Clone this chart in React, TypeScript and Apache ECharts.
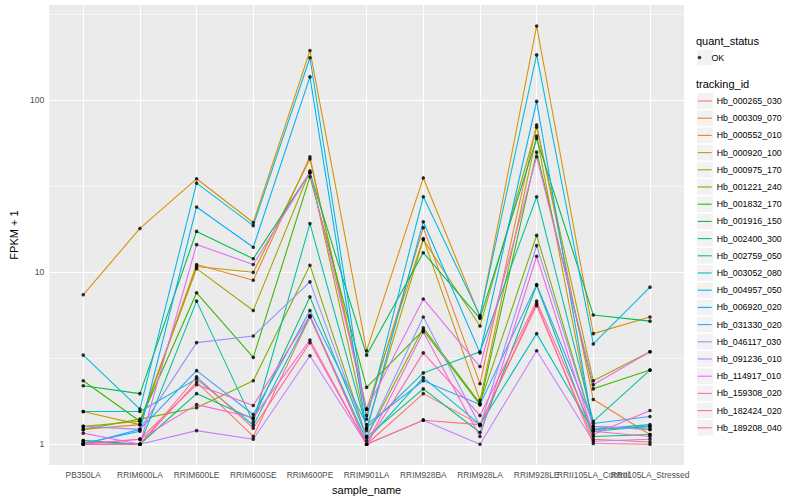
import React, { useEffect, useRef } from "react";
import * as echarts from "echarts";

const sampleNames = [
  "PB350LA", "RRIM600LA", "RRIM600LE", "RRIM600SE", "RRIM600PE", "RRIM901LA",
  "RRIM928BA", "RRIM928LA", "RRIM928LE", "RRII105LA_Control", "RRII105LA_Stressed",
];

const yMajorTicks = [1, 10, 100];
const yMinorTicks = [3.1623, 31.623, 316.23];

const trackingIds = [
  "Hb_000265_030", "Hb_000309_070", "Hb_000552_010", "Hb_000920_100", "Hb_000975_170",
  "Hb_001221_240", "Hb_001832_170", "Hb_001916_150", "Hb_002400_300", "Hb_002759_050",
  "Hb_003052_080", "Hb_004957_050", "Hb_006920_020", "Hb_031330_020", "Hb_046117_030",
  "Hb_091236_010", "Hb_114917_010", "Hb_159308_020", "Hb_182424_020", "Hb_189208_040",
];

const trackingColors = [
  "#F8766D", "#EA8331", "#D89000", "#C09B00", "#A3A500", "#7CAE00", "#39B600", "#00BB4E",
  "#00BF7D", "#00C1A3", "#00BFC4", "#00BAE0", "#00B0F6", "#35A2FF", "#9590FF", "#C77CFF",
  "#E76BF3", "#FA62DB", "#FF62BC", "#FF6C91",
];

// FPKM + 1 per sample (order of sampleNames)
const hb_000265_030 = [1.05, 1.0, 2.3, 1.11, 5.5, 1.0, 1.97, 1.3, 6.4, 1.07, 1.03];
const hb_000309_070 = [1.22, 1.3, 11.1, 9.0, 47, 1.47, 18.2, 2.25, 72, 1.82, 1.14];
const hb_000552_010 = [7.4, 18, 35, 19.5, 195, 3.5, 35.4, 5.5, 271, 4.4, 5.5];
const hb_000920_100 = [1.55, 1.3, 10.8, 10.0, 45.6, 1.6, 15.7, 1.8, 62, 1.22, 1.27];
const hb_000975_170 = [1.27, 1.36, 10.5, 6.0, 39, 1.24, 15.5, 4.87, 69.8, 2.34, 3.45];
const hb_001221_240 = [1.22, 1.4, 1.63, 2.34, 11, 1.1, 4.75, 1.73, 16.4, 1.27, 1.22];
const hb_001832_170 = [2.34, 1.36, 7.6, 3.2, 36, 2.14, 4.6, 1.7, 50, 2.1, 2.7];
const hb_001916_150 = [2.19, 1.97, 17.3, 12.0, 38, 3.3, 13, 5.4, 60, 5.65, 5.2];
const hb_002400_300 = [1.05, 1.0, 1.97, 1.4, 7.2, 1.1, 2.1, 1.17, 8.4, 1.11, 1.14];
const hb_002759_050 = [1.03, 1.0, 6.8, 1.34, 19.2, 1.24, 2.6, 3.45, 27.5, 1.36, 2.7];
const hb_003052_080 = [1.55, 1.55, 2.4, 1.29, 5.55, 1.05, 2.44, 1.3, 4.4, 1.19, 1.27];
const hb_004957_050 = [3.3, 1.6, 33, 18.7, 177, 1.4, 27.5, 5.6, 184, 3.83, 8.2];
const hb_006920_020 = [1.01, 1.19, 24, 14, 137, 1.2, 19.7, 3.4, 98.7, 1.22, 1.3];
const hb_031330_020 = [1.0, 1.22, 2.68, 1.49, 6.0, 1.3, 2.34, 1.7, 8.5, 1.32, 1.45];
const hb_046117_030 = [1.27, 1.22, 3.9, 4.26, 8.8, 1.11, 5.5, 1.28, 14.3, 1.27, 1.22];
const hb_091236_010 = [1.0, 1.0, 1.2, 1.07, 3.27, 1.0, 1.38, 1.0, 3.5, 1.04, 1.07];
const hb_114917_010 = [1.16, 1.0, 14.5, 11.1, 38, 1.6, 7.0, 2.83, 47, 2.22, 3.45];
const hb_159308_020 = [1.0, 1.07, 1.7, 1.43, 4.04, 1.0, 4.5, 1.11, 12.4, 1.14, 1.57];
const hb_182424_020 = [1.01, 1.07, 2.22, 1.68, 5.6, 1.0, 3.4, 1.47, 6.8, 1.19, 1.11];
const hb_189208_040 = [1.0, 1.0, 2.47, 1.24, 3.9, 1.0, 1.38, 1.3, 6.6, 1.01, 1.0];

const fpkmPlusOne = [
  hb_000265_030, hb_000309_070, hb_000552_010, hb_000920_100, hb_000975_170,
  hb_001221_240, hb_001832_170, hb_001916_150, hb_002400_300, hb_002759_050,
  hb_003052_080, hb_004957_050, hb_006920_020, hb_031330_020, hb_046117_030,
  hb_091236_010, hb_114917_010, hb_159308_020, hb_182424_020, hb_189208_040,
];

const FONT = "'Liberation Sans', Arial, Helvetica, sans-serif";

export default function App() {
  const ref = useRef<HTMLDivElement>(null);

  useEffect(() => {
    if (!ref.current) return;
    const chart = echarts.init(ref.current, null, { renderer: "svg" });
    const lg = (v: number) => Math.log10(v);
    const catIdx = sampleNames.map((_, i) => i);
    // split label indices across two axes so that overlapping labels (as in the reference) are all kept
    const labelsA = catIdx.filter((i) => i % 2 === 0);
    const labelsB = catIdx.filter((i) => i % 2 === 1);

    const lineSeries = fpkmPlusOne.map((vals, k) => ({
      type: "line",
      name: trackingIds[k],
      data: vals.map((v, j) => [j, lg(v)]),
      symbol: "none",
      showSymbol: false,
      z: 2,
      silent: true,
      lineStyle: { color: trackingColors[k], width: 1.07 },
      itemStyle: { color: trackingColors[k] },
    }));

    const pointData: number[][] = [];
    fpkmPlusOne.forEach((vals) => vals.forEach((v, j) => pointData.push([j, lg(v)])));

    const gridSeries = {
      type: "line",
      name: "__grid",
      data: [],
      silent: true,
      z: 1,
      markLine: {
        z: 1,
        silent: true,
        symbol: ["none", "none"],
        label: { show: false },
        animation: false,
        data: [
          ...yMinorTicks.map((v) => ({ yAxis: lg(v), lineStyle: { color: "#FFFFFF", width: 0.55, type: "solid" } })),
          ...yMajorTicks.map((v) => ({ yAxis: lg(v), lineStyle: { color: "#FFFFFF", width: 1.1, type: "solid" } })),
          ...catIdx.map((i) => ({ xAxis: i, lineStyle: { color: "#FFFFFF", width: 1.1, type: "solid" } })),
        ],
      },
    };

    const keyCenters = trackingIds.map((_, i) => 101 + i * 17.2);
    const keyRects = [57.5, ...keyCenters].map((cy) => ({
      type: "rect",
      shape: { x: 697, y: cy - 7.8, width: 16, height: 15.6 },
      style: { fill: "#F2F2F2" },
      z: 0,
      silent: true,
    }));

    const xLabelStyle = {
      show: true,
      margin: 6,
      fontSize: 8.4,
      color: "#4D4D4D",
      fontFamily: FONT,
      hideOverlap: false,
      showMinLabel: true,
      showMaxLabel: true,
      formatter: (v: number) => sampleNames[Math.round(v)] ?? "",
    };

    chart.setOption({
      animation: false,
      backgroundColor: "#FFFFFF",
      textStyle: { fontFamily: FONT },
      grid: {
        left: 40,
        right: 116,
        top: 5,
        bottom: 32,
        show: true,
        backgroundColor: "#EBEBEB",
        borderWidth: 0,
        containLabel: false,
      },
      xAxis: [
        {
          type: "value",
          min: -0.6,
          max: 10.6,
          position: "bottom",
          name: "sample_name",
          nameLocation: "middle",
          nameGap: 13,
          nameTextStyle: { fontSize: 11, color: "#000000", fontFamily: FONT, verticalAlign: "top" },
          axisLine: { show: false },
          splitLine: { show: false },
          axisTick: { show: true, length: 2.75, lineStyle: { color: "#333333", width: 1.07 }, customValues: catIdx },
          axisLabel: { ...xLabelStyle, customValues: labelsA },
        },
        {
          type: "value",
          min: -0.6,
          max: 10.6,
          position: "bottom",
          offset: 0,
          axisLine: { show: false },
          splitLine: { show: false },
          axisTick: { show: false },
          axisLabel: { ...xLabelStyle, customValues: labelsB },
        },
      ],
      yAxis: {
        type: "value",
        min: -0.1214,
        max: 2.555,
        name: "FPKM + 1",
        nameLocation: "middle",
        nameRotate: 90,
        nameGap: 26,
        nameTextStyle: { fontSize: 11, color: "#000000", fontFamily: FONT },
        axisLine: { show: false },
        splitLine: { show: false },
        axisTick: {
          show: true,
          length: 2.75,
          lineStyle: { color: "#333333", width: 1.07 },
          customValues: yMajorTicks.map(lg),
        },
        axisLabel: {
          show: true,
          customValues: yMajorTicks.map(lg),
          margin: 5,
          fontSize: 8.6,
          color: "#4D4D4D",
          fontFamily: FONT,
          showMinLabel: true,
          showMaxLabel: true,
          formatter: (v: number) => String(Math.round(Math.pow(10, v))),
        },
      },
      legend: [
        {
          data: ["OK"],
          orient: "vertical",
          left: 697.7,
          top: 48.9,
          padding: 0,
          itemGap: 0,
          itemWidth: 14,
          itemHeight: 3.6,
          icon: "circle",
          selectedMode: false,
          z: 5,
          textStyle: { fontSize: 8.8, lineHeight: 17.2, color: "#000000", fontFamily: FONT },
        },
        {
          data: trackingIds,
          orient: "vertical",
          left: 697.7,
          top: 101 - 8.6,
          padding: 0,
          itemGap: 0,
          itemWidth: 14,
          itemHeight: 1.1,
          icon: "rect",
          selectedMode: false,
          z: 5,
          textStyle: { fontSize: 8.8, lineHeight: 17.2, color: "#000000", fontFamily: FONT },
        },
      ],
      graphic: [
        ...keyRects,
        {
          type: "text",
          x: 696,
          y: 40.7,
          silent: true,
          z: 5,
          style: { text: "quant_status", fontSize: 11, fill: "#000000", fontFamily: FONT, verticalAlign: "middle" },
        },
        {
          type: "text",
          x: 696,
          y: 84,
          silent: true,
          z: 5,
          style: { text: "tracking_id", fontSize: 11, fill: "#000000", fontFamily: FONT, verticalAlign: "middle" },
        },
      ],
      series: [
        gridSeries,
        ...lineSeries,
        {
          type: "scatter",
          name: "OK",
          data: pointData,
          symbol: "circle",
          symbolSize: 3.6,
          z: 3,
          silent: true,
          itemStyle: { color: "#000000" },
        },
      ],
    });

    return () => chart.dispose();
  }, []);

  return (
    <div
      ref={ref}
      style={{ position: "fixed", left: 0, top: 0, width: 800, height: 500, background: "#FFFFFF" }}
    />
  );
}
